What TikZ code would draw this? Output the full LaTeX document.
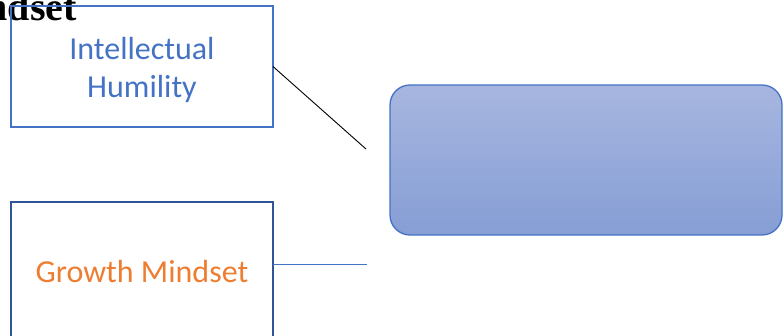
\documentclass[tikz,border=0pt]{standalone}
\usepackage{fontspec}
\setmainfont{Carlito}
\newfontfamily\headfont{Liberation Serif}
\usetikzlibrary{positioning}
\definecolor{accentblue}{HTML}{4472C4}
\definecolor{darkblue}{HTML}{2F5597}
\definecolor{accentorange}{HTML}{ED7D31}
\definecolor{goaltop}{HTML}{A7B6DF}
\definecolor{goalbottom}{HTML}{869ED5}

\begin{document}
\begin{tikzpicture}[x=1pt, y=-1pt, node distance=75pt,
    box/.style={draw, minimum width=262pt, inner sep=0pt, outer sep=0pt, align=center, font=\fontsize{32}{38.5}\selectfont},
    goal/.style={draw=accentblue, line width=1.3pt, rounded corners=20pt, minimum width=392pt, minimum height=150pt, outer sep=0pt, top color=goaltop, bottom color=goalbottom}]
    \useasboundingbox (0,0) rectangle (784,335);
    \clip (0,0) rectangle (784,335);

    \node[anchor=base east, inner sep=0pt, font=\headfont\bfseries\fontsize{40}{44}\selectfont] (title) at (77,20.7) {Mindset};

    \node[box, draw=accentblue, line width=1.3pt, text=accentblue, minimum height=121pt, text height=68.4pt, text depth=6pt] (humility) at (142,66.5) {Intellectual\\Humility};
    \node[box, draw=darkblue, line width=1.5pt, text=accentorange, minimum height=140pt, below=of humility] (growth) {Growth Mindset};
    \node[goal] (goal) at (586,160) {};

    \coordinate (humility-end) at (366,149);
    \coordinate (growth-end) at (367,264);

    \draw[black, line width=0.9pt] (humility.east) -- (humility-end);
    \draw[accentblue, line width=1pt] (growth.east |- growth-end) -- (growth-end);
\end{tikzpicture}
\end{document}
